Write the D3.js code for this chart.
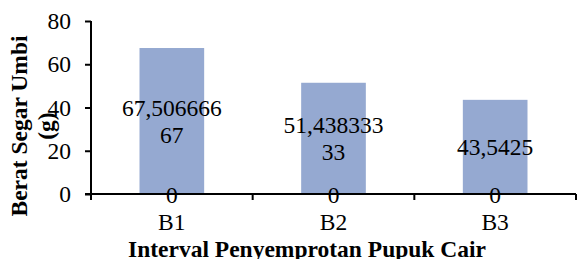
<!DOCTYPE html>
<html>
<head>
<meta charset="utf-8">
<script src="https://cdn.jsdelivr.net/npm/d3@7.9.0/dist/d3.min.js"></script>
<style>
  body { margin: 0; background: #fff; }
  svg text { font-family: 'Liberation Serif', 'Times New Roman', Times, serif; }
</style>
</head>
<body>
<svg width="579" height="259"></svg>
<script>
// data
const categories = ['B1', 'B2', 'B3'];
const values = [67.50666667, 51.43833333, 43.5425];
const zeroSeries = [0, 0, 0];
const yTicks = [0, 20, 40, 60, 80];

const svg = d3.select('svg');
const plotLeft = 91, plotRight = 576, plotTop = 21, plotBottom = 194;
const FONT = 'Liberation Serif';

const x = d3.scaleBand()
  .domain(categories)
  .range([plotLeft, plotRight])
  .paddingInner(0.6)
  .paddingOuter(0.3);

const y = d3.scaleLinear().domain([0, 80]).range([plotBottom, plotTop]);

// bars
svg.selectAll('rect.bar')
  .data(values)
  .join('rect')
  .attr('class', 'bar')
  .attr('x', (d, i) => x(categories[i]))
  .attr('width', x.bandwidth())
  .attr('y', d => y(d))
  .attr('height', d => y(0) - y(d))
  .attr('fill', '#95a9d1');

// y axis
const yAxis = svg.append('g')
  .attr('transform', `translate(${plotLeft},0)`)
  .call(d3.axisLeft(y).tickValues(yTicks).tickSize(6).tickPadding(14).tickFormat(d3.format('d')));
yAxis.attr('font-family', FONT).attr('font-size', 23.5);
yAxis.select('.domain').attr('stroke', '#000').attr('stroke-width', 2).attr('d', `M0,${plotTop}V${plotBottom}`);
yAxis.selectAll('.tick line').attr('stroke', '#000').attr('stroke-width', 2);
yAxis.selectAll('.tick text').attr('fill', '#000');

// x axis: line plus ticks at category boundaries
const step = x.step();
const boundaries = d3.range(categories.length + 1).map(i => plotLeft + i * step);
svg.append('line')
  .attr('x1', plotLeft - 6).attr('x2', plotRight)
  .attr('y1', plotBottom).attr('y2', plotBottom)
  .attr('stroke', '#000').attr('stroke-width', 2);
svg.selectAll('line.xtick')
  .data(boundaries)
  .join('line')
  .attr('class', 'xtick')
  .attr('x1', d => d).attr('x2', d => d)
  .attr('y1', plotBottom).attr('y2', plotBottom + 6)
  .attr('stroke', '#000').attr('stroke-width', 2);

svg.selectAll('text.xlab')
  .data(categories)
  .join('text')
  .attr('class', 'xlab')
  .attr('x', d => x(d) + x.bandwidth() / 2)
  .attr('y', 230)
  .attr('text-anchor', 'middle')
  .attr('font-family', FONT)
  .attr('font-size', 23.5)
  .text(d => d);

// value labels (comma decimal, wrapped like the original)
const fmt = v => String(+v.toFixed(8)).replace('.', ',');
function wrap(s) {
  const lines = [];
  for (let i = 0; i < s.length; i += 9) lines.push(s.slice(i, i + 9));
  return lines;
}
values.forEach((v, i) => {
  const lines = wrap(fmt(v));
  const cy = y(v / 2);
  const cx = x(categories[i]) + x.bandwidth() / 2;
  const lh = 27;
  const t = svg.append('text')
    .attr('text-anchor', 'middle')
    .attr('font-family', FONT)
    .attr('font-size', 23.5);
  lines.forEach((ln, j) => {
    t.append('tspan')
      .attr('x', cx)
      .attr('y', cy + 8 + (j - (lines.length - 1) / 2) * lh)
      .text(ln);
  });
});

// zero series labels
svg.selectAll('text.zlab')
  .data(zeroSeries)
  .join('text')
  .attr('class', 'zlab')
  .attr('x', (d, i) => x(categories[i]) + x.bandwidth() / 2)
  .attr('y', d => y(d) + 9)
  .attr('text-anchor', 'middle')
  .attr('font-family', FONT)
  .attr('font-size', 23.5)
  .text(d => d);

// axis titles
const yTitle = svg.append('text')
  .attr('transform', 'translate(0,126) rotate(-90)')
  .attr('text-anchor', 'middle')
  .attr('font-family', FONT)
  .attr('font-size', 23.5)
  .attr('font-weight', 'bold');
yTitle.append('tspan').attr('x', 0).attr('y', 27).text('Berat Segar Umbi');
yTitle.append('tspan').attr('x', 0).attr('y', 54).text('(g)');

svg.append('text')
  .attr('x', 307)
  .attr('y', 257)
  .attr('text-anchor', 'middle')
  .attr('font-family', FONT)
  .attr('font-size', 23.5)
  .attr('font-weight', 'bold')
  .text('Interval Penyemprotan Pupuk Cair');
</script>
</body>
</html>
